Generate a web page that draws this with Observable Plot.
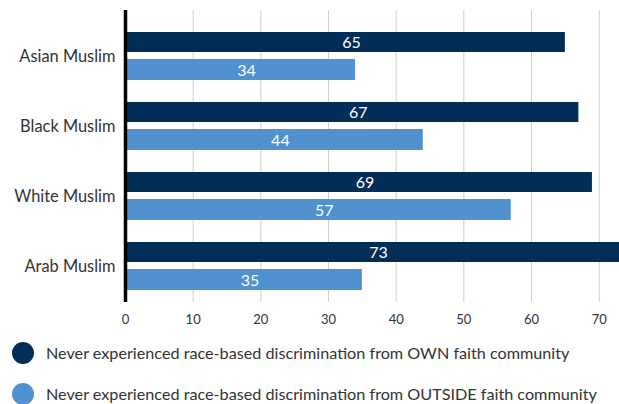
<!DOCTYPE html>
<html>
<head>
<meta charset="utf-8">
<script src="https://cdn.jsdelivr.net/npm/d3@7"></script>
<script src="https://cdn.jsdelivr.net/npm/@observablehq/plot@0.6"></script>
<style>
  html, body { margin: 0; padding: 0; background: #fff; overflow: hidden; }
  body { width: 619px; font-family: Lato, "Open Sans", sans-serif; }
  .legend { margin-top: -2px; }
  .legend .item { display: flex; align-items: center; height: 41px; color: #333; font-size: 16.2px; white-space: nowrap; }
  .legend .dot { width: 22px; height: 22px; border-radius: 50%; margin-left: 12px; margin-right: 12px; flex: none; }
</style>
</head>
<body>
<div id="chart"></div>
<div class="legend" id="legend"></div>
<script>
const categories = ["Asian Muslim", "Black Muslim", "White Muslim", "Arab Muslim"];
const ownValues = [65, 67, 69, 73];
const outsideValues = [34, 44, 57, 35];
const seriesNames = [
  "Never experienced race-based discrimination from OWN faith community",
  "Never experienced race-based discrimination from OUTSIDE faith community"
];
const seriesColors = ["#022d56", "#5291cf"];
const xTicks = [0, 10, 20, 30, 40, 50, 60, 70];

const own = categories.map((c, i) => ({category: c, value: ownValues[i]}));
const outside = categories.map((c, i) => ({category: c, value: outsideValues[i]}));

const plot = Plot.plot({
  width: 619,
  height: 334,
  marginLeft: 125,
  marginRight: 0,
  marginTop: 10,
  marginBottom: 32,
  style: {fontFamily: "Lato, 'Open Sans', sans-serif", color: "#333", background: "#fff"},
  x: {domain: [0, 73], ticks: xTicks},
  y: {domain: categories, range: [31, 292], paddingInner: 0.31, paddingOuter: 0},
  marks: [
    Plot.ruleX(xTicks.filter(d => d > 0), {stroke: "#cfcfcf", strokeWidth: 1}),
    Plot.barX(own, {x: "value", y: "category", fill: seriesColors[0], insetBottom: 28}),
    Plot.barX(outside, {x: "value", y: "category", fill: seriesColors[1], insetTop: 27}),
    Plot.text(own, {x: d => d.value / 2, y: "category", text: d => String(d.value), fill: "#fff", fontSize: 16, dy: -14, dx: 6}),
    Plot.text(outside, {x: d => d.value / 2, y: "category", text: d => String(d.value), fill: "#fff", fontSize: 16, dy: 14, dx: 6}),
    Plot.ruleX([0], {stroke: "#000", strokeWidth: 3.5}),
    Plot.axisX({ticks: xTicks, tickSize: 0, tickPadding: 12, fontSize: 13, label: null, fill: "#333"}),
    Plot.axisY({tickSize: 0, tickPadding: 10, fontSize: 16.4, label: null, fill: "#333"})
  ]
});
document.getElementById("chart").appendChild(plot);

const legend = document.getElementById("legend");
seriesNames.forEach((name, i) => {
  const item = document.createElement("div");
  item.className = "item";
  const dot = document.createElement("span");
  dot.className = "dot";
  dot.style.background = seriesColors[i];
  const label = document.createElement("span");
  label.textContent = name;
  item.appendChild(dot);
  item.appendChild(label);
  legend.appendChild(item);
});
</script>
</body>
</html>
